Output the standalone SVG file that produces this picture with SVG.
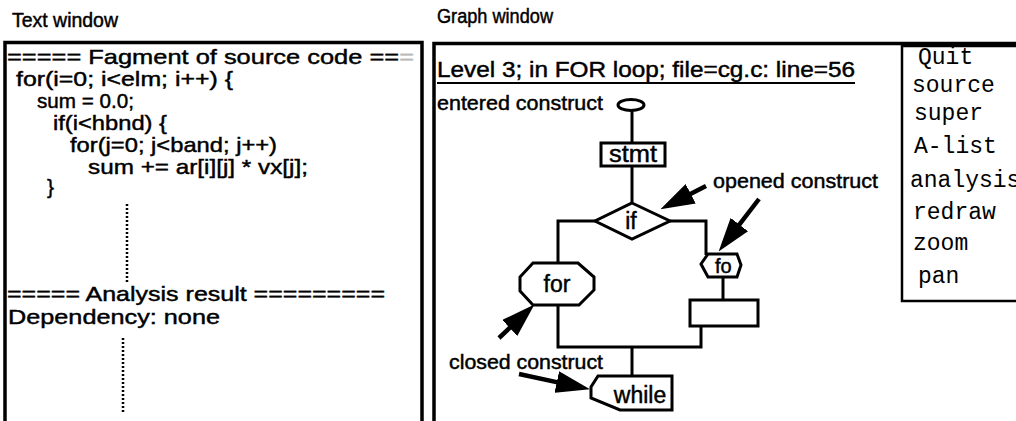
<svg xmlns="http://www.w3.org/2000/svg" width="1016" height="421" viewBox="0 0 1016 421">
<style>
text{font-family:"Liberation Sans",Arial,sans-serif;fill:#000;stroke:#000;stroke-width:0.45}
.lbl{font-size:19.5px}
.code{font-size:21px}
.g{font-size:20px}
.node{font-size:23px}
.menu{font-family:"Liberation Mono","Courier New",monospace;font-size:23px;stroke:none}
.frame{fill:none;stroke:#000;stroke-width:3.5}
.shape{fill:#fff;stroke:#000;stroke-width:3}
.edge{fill:none;stroke:#000;stroke-width:3}
.dots{stroke:#000;stroke-width:2.5;stroke-dasharray:2 2}
.arrow{stroke:#000;stroke-width:4.5;fill:none}
</style>
<defs>
<marker id="head" viewBox="0 0 34 22" refX="7" refY="11" markerWidth="34" markerHeight="22" markerUnits="userSpaceOnUse" orient="auto">
<path d="M0,0 L34,11 L0,22 z" fill="#000"/>
</marker>
</defs>
<rect width="1016" height="421" fill="#fff"/>

<g id="text-window">
<text class="lbl" x="12" y="27" textLength="106" lengthAdjust="spacingAndGlyphs">Text window</text>
<path class="frame" d="M5,421 V42.5 H422 V421"/>
<text class="code" x="7" y="64" textLength="407" lengthAdjust="spacingAndGlyphs">===== Fagment of source code ==<tspan fill="#bbb" stroke="#bbb">=</tspan></text>
<text class="code" x="16" y="86" textLength="217" lengthAdjust="spacingAndGlyphs">for(i=0; i&lt;elm; i++) {</text>
<text class="code" x="37" y="108" textLength="97" lengthAdjust="spacingAndGlyphs">sum = 0.0;</text>
<text class="code" x="53" y="130" textLength="114" lengthAdjust="spacingAndGlyphs">if(i&lt;hbnd) {</text>
<text class="code" x="70" y="152" textLength="207" lengthAdjust="spacingAndGlyphs">for(j=0; j&lt;band; j++)</text>
<text class="code" x="88" y="174" textLength="220" lengthAdjust="spacingAndGlyphs">sum += ar[i][j] * vx[j];</text>
<text class="code" x="47" y="194">}</text>
<line class="dots" x1="127" y1="204" x2="127" y2="282"/>
<text class="code" x="7" y="301" textLength="378" lengthAdjust="spacingAndGlyphs">===== Analysis result =========</text>
<text class="code" x="8" y="324" textLength="212" lengthAdjust="spacingAndGlyphs">Dependency: none</text>
<line class="dots" x1="123" y1="338" x2="123" y2="412"/>
</g>

<g id="graph-window">
<text class="lbl" x="437" y="23" textLength="116" lengthAdjust="spacingAndGlyphs">Graph window</text>
<path class="frame" d="M434,421 V43.5 H1016"/>
<text x="437" y="77" font-size="22" textLength="418" lengthAdjust="spacingAndGlyphs">Level 3; in FOR loop; file=cg.c: line=56</text>
<line x1="437" y1="83" x2="855" y2="83" stroke="#000" stroke-width="2"/>
</g>

<g id="connectors">
<line class="edge" x1="632" y1="110" x2="632" y2="143"/>
<line class="edge" x1="632" y1="166" x2="632" y2="203"/>
<polyline class="edge" points="595,221 558,221 558,263"/>
<polyline class="edge" points="670,221 706,221 706,255"/>
<line class="edge" x1="723" y1="277" x2="723" y2="300"/>
<polyline class="edge" points="558,305 558,347 701,347 701,326"/>
<line class="edge" x1="632" y1="347" x2="632" y2="376"/>
</g>

<g id="entered">
<ellipse class="shape" cx="631" cy="105" rx="13" ry="5.5"/>
<text class="g" x="437" y="110" textLength="166" lengthAdjust="spacingAndGlyphs">entered construct</text>
</g>

<g id="stmt">
<rect class="shape" x="601" y="143" width="64" height="23"/>
<text x="633" y="162" font-size="23" text-anchor="middle" textLength="48" lengthAdjust="spacingAndGlyphs">stmt</text>
</g>

<g id="if">
<polygon class="shape" points="632,203 670,221 632,239 595,221"/>
<text x="631" y="229" font-size="23" text-anchor="middle">if</text>
</g>

<g id="for-closed">
<polygon class="shape" points="533,263 578,263 594,277 594,290 579,305 533,305 520,291 520,277"/>
<text class="node" x="557" y="292" text-anchor="middle">for</text>
</g>

<g id="for-opened">
<polygon class="shape" points="708,254 737,254 741,265 737,277 708,277 701,264"/>
<text x="715" y="273" font-size="20">fo</text>
</g>

<g id="box">
<rect class="shape" x="690" y="300" width="68" height="26"/>
</g>

<g id="while">
<polygon class="shape" points="598,376 672,376 672,410 620,410 591,398 591,387"/>
<text class="node" x="640" y="403" text-anchor="middle">while</text>
</g>

<g id="annotations">
<text class="g" x="713" y="188" textLength="165" lengthAdjust="spacingAndGlyphs">opened construct</text>
<text class="g" x="449" y="369" textLength="154" lengthAdjust="spacingAndGlyphs">closed construct</text>
<line class="arrow" x1="706" y1="186" x2="684.5" y2="197" marker-end="url(#head)"/>
<line class="arrow" x1="759" y1="199" x2="735.1" y2="230.1" marker-end="url(#head)"/>
<line class="arrow" x1="499" y1="338" x2="514.8" y2="323.1" marker-end="url(#head)"/>
<line class="arrow" x1="519" y1="374" x2="563.6" y2="383.6" marker-end="url(#head)"/>
</g>

<g id="menu">
<rect x="902" y="46" width="130" height="255" fill="#fff" stroke="#000" stroke-width="2.5"/>
<text class="menu" x="918" y="64">Quit</text>
<text class="menu" x="912" y="92">source</text>
<text class="menu" x="914" y="120">super</text>
<text class="menu" x="914" y="153">A-list</text>
<text class="menu" x="910" y="187">analysis</text>
<text class="menu" x="913" y="219">redraw</text>
<text class="menu" x="913" y="250">zoom</text>
<text class="menu" x="918" y="283">pan</text>
</g>
</svg>
